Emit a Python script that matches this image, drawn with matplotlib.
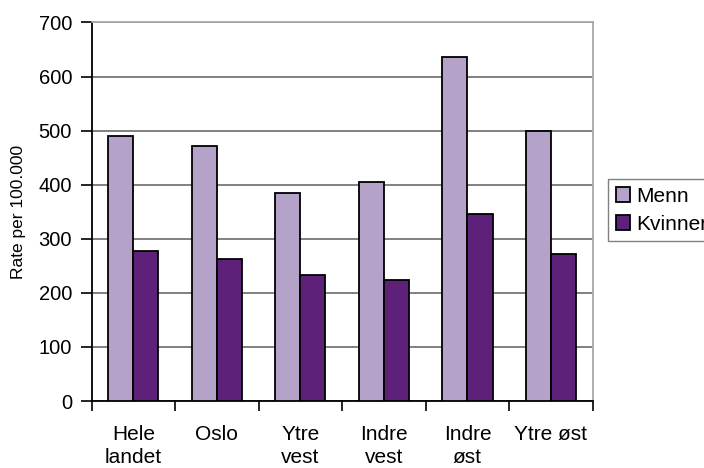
import numpy as np
import matplotlib
matplotlib.use('Agg')
import matplotlib.pyplot as plt
from matplotlib.patches import Patch

plt.rcParams.update({'font.family': ['Liberation Sans', 'DejaVu Sans']})

regioner = ['Hele\nlandet', 'Oslo', 'Ytre\nvest', 'Indre\nvest', 'Indre\nøst', 'Ytre øst']
menn = [490, 471, 384, 405, 636, 500]
kvinner = [277, 262, 234, 223, 345, 272]

MENN_C = '#B4A2C8'
KVIN_C = '#5E2179'

fig = plt.figure(figsize=(7.04, 4.68), dpi=100)
ax = fig.add_axes([0.130, 0.143, 0.712, 0.809])

x = np.arange(len(regioner))
w = 0.3
ax.bar(x - w / 2, menn, w, color=MENN_C, edgecolor='black', linewidth=1.3, zorder=3)
ax.bar(x + w / 2, kvinner, w, color=KVIN_C, edgecolor='black', linewidth=1.3, zorder=3)

ax.set_xlim(-0.5, len(regioner) - 0.5)
ax.set_ylim(0, 700)
ax.set_yticks(range(0, 701, 100))
ax.yaxis.grid(True, color='#808080', linewidth=1.4, zorder=0)

# kategorietiketter midt i gruppene, tikkstreker mellom gruppene
ax.set_xticks(x)
ax.set_xticklabels(regioner, fontsize=15, linespacing=1.32)
ax.set_xticks(np.arange(-0.5, len(regioner)), minor=True)
ax.tick_params(axis='x', which='major', length=0, pad=17)
ax.tick_params(axis='x', which='minor', length=7, width=1.2, direction='out')
ax.tick_params(axis='y', length=8, width=1.2, labelsize=14.5, pad=6)

for s in ['top', 'right']:
    ax.spines[s].set_color('#a8a8a8')
    ax.spines[s].set_linewidth(1.3)
for s in ['left', 'bottom']:
    ax.spines[s].set_linewidth(1.3)

ax.set_ylabel('Rate per 100.000', fontsize=12.5, labelpad=9)

handles = [Patch(facecolor=MENN_C, edgecolor='black', linewidth=1.3, label='Menn'),
           Patch(facecolor=KVIN_C, edgecolor='black', linewidth=1.3, label='Kvinner')]
fig.legend(handles=handles, loc='upper left', bbox_to_anchor=(0.864, 0.617),
           fontsize=15, frameon=True, fancybox=False, edgecolor='#606060',
           handlelength=0.7, handleheight=0.7, handletextpad=0.3,
           borderpad=0.35, labelspacing=0.45, borderaxespad=0)

fig.savefig('out.png', dpi=100, facecolor='white')
